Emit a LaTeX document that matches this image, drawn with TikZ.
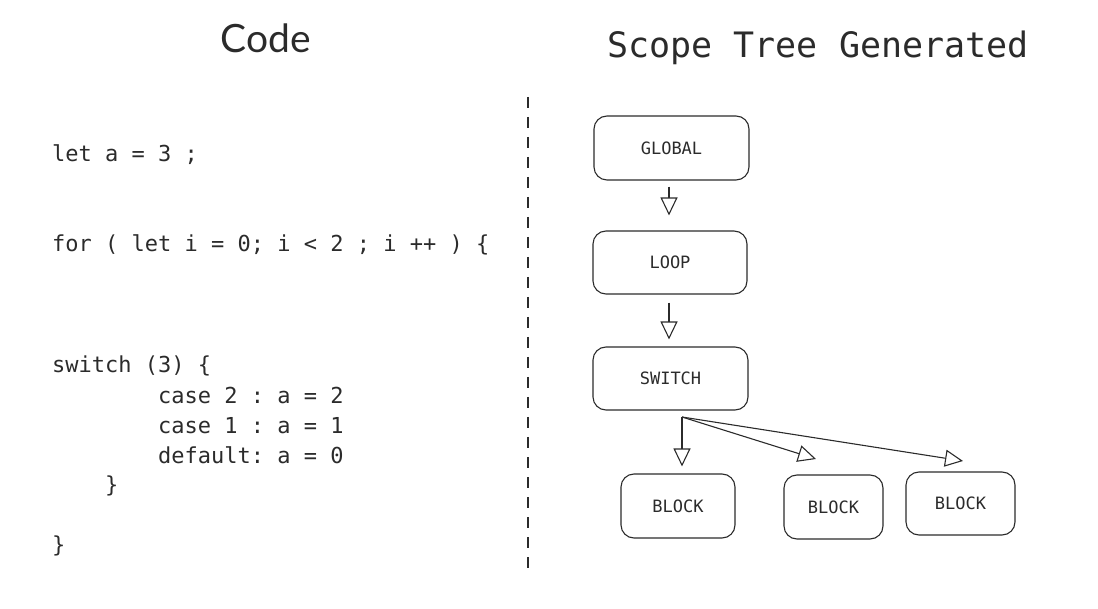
\documentclass[tikz,border=0pt]{standalone}
\usepackage{fontspec}
\setmainfont{Lato}
\setmonofont{DejaVu Sans Mono}
\usetikzlibrary{arrows.meta}

\definecolor{ink}{HTML}{2B2B2B}

\tikzset{
  scopebox/.style={draw=ink, line width=1.1pt, rounded corners=13pt, align=center,
    font=\fontsize{17}{19}\selectfont\ttfamily, text=ink},
  codeline/.style={anchor=base west, inner sep=0pt, text=ink,
    font=\fontsize{22}{26}\selectfont\ttfamily},
  tree/.style={draw=ink, line width=1.1pt, -{Triangle[open, length=18pt, width=17pt, line width=1.1pt]}},
}

\begin{document}
\begin{tikzpicture}[x=1pt, y=-1pt]
  \useasboundingbox (0,0) rectangle (1098,609);

  % titles
  \node (codetitle) [anchor=base, inner sep=0pt, text=ink, font=\fontsize{39}{44}\selectfont] at (266,53) {Code};
  \node (treetitle) [anchor=base, inner sep=0pt, text=ink, font=\fontsize{35}{40}\selectfont\ttfamily] at (818,58) {Scope Tree Generated};

  % code
  \node (c1) [codeline] at (52,162) {let a = 3 ;};
  \node (c2) [codeline] at (52,252) {for ( let i = 0; i < 2 ; i ++ ) \{};
  \node (c3) [codeline] at (52,373) {switch (3) \{};
  \node (c4) [codeline] at (158,404) {case 2 : a = 2};
  \node (c5) [codeline] at (158,434) {case 1 : a = 1};
  \node (c6) [codeline] at (158,464) {default: a = 0};
  \node (c7) [codeline] at (105,493) {\}};
  \node (c8) [codeline] at (52,552) {\}};

  % separator
  \coordinate (septop) at (528,97);
  \coordinate (sepbot) at (528,575);
  \draw[ink, line width=2pt, dash pattern=on 11pt off 9pt] (septop) -- (sepbot);

  % scope tree
  \node (global) [scopebox, minimum width=155pt, minimum height=64pt] at (671.5,148) {GLOBAL};
  \node (loop) [scopebox, minimum width=154pt, minimum height=63pt] at (670,262.5) {LOOP};
  \node (switch) [scopebox, minimum width=155pt, minimum height=63pt] at (670.5,378.5) {SWITCH};
  \node (block1) [scopebox, minimum width=114pt, minimum height=64pt] at (678,506) {BLOCK};
  \node (block2) [scopebox, minimum width=99pt, minimum height=64pt] at (833.5,507) {BLOCK};
  \node (block3) [scopebox, minimum width=109pt, minimum height=63pt] at (960.5,503.5) {BLOCK};

  \draw[tree, shorten <=6pt, shorten >=15pt] (global.south -| 669,0) -- (loop.north -| 669,0);
  \draw[tree, shorten <=8pt, shorten >=7pt] (loop.south -| 669,0) -- (switch.north -| 669,0);

  \coordinate (fork) at (682,417);
  \coordinate (tip2) at (816,459);
  \coordinate (tip3) at (963,461);
  \draw[tree, shorten >=7pt] (fork) -- (block1.north -| fork);
  \draw[tree] (fork) -- (tip2);
  \draw[tree] (fork) -- (tip3);
\end{tikzpicture}
\end{document}
